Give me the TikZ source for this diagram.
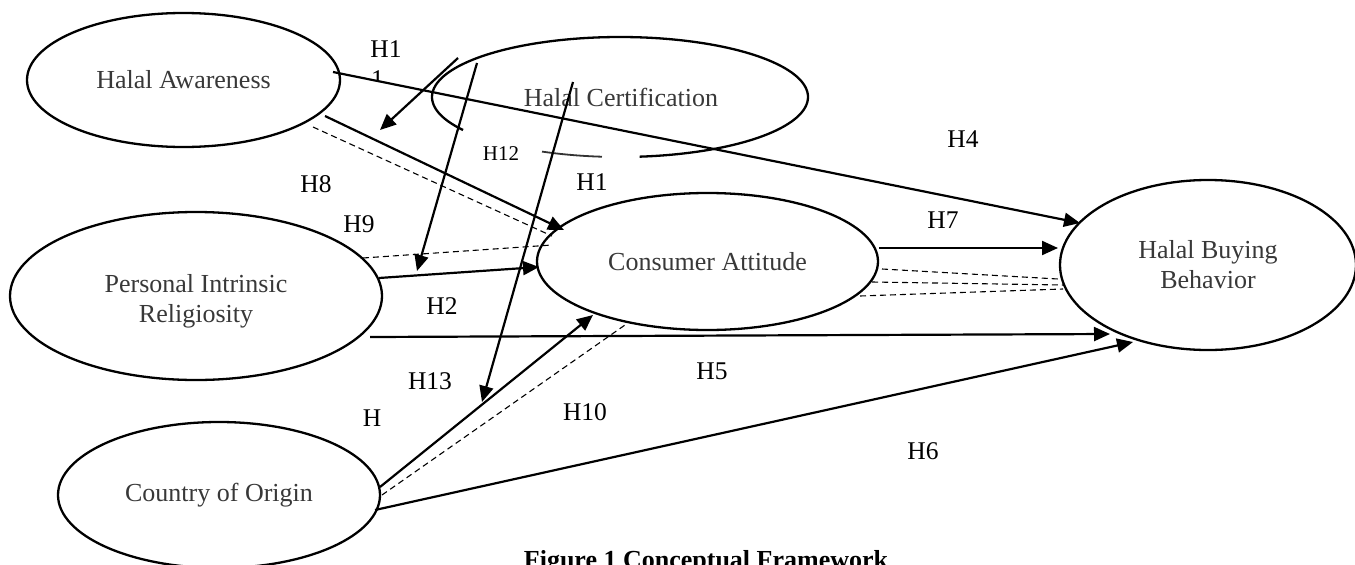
\documentclass[tikz,border=0pt]{standalone}
\usepackage{fontspec}
\setmainfont{Liberation Serif}
\usetikzlibrary{arrows.meta,shapes.geometric}
\begin{document}
\begin{tikzpicture}[x=1pt,y=-1pt,
  oval/.style={ellipse,draw,line width=2.3pt,inner sep=0pt,outer sep=0pt,text=black!78,font=\fontsize{26}{30}\selectfont,align=center},
  ovaltext/.style={text=black!78,font=\fontsize{26}{30}\selectfont,align=center,inner sep=0pt},
  lab/.style={font=\fontsize{25.5}{30}\selectfont,inner sep=0pt},
  smalllab/.style={font=\fontsize{21}{24}\selectfont,inner sep=0pt},
  arr/.style={line width=2.2pt,-{Triangle[length=16pt,width=14pt]}},
  dsh/.style={line width=1.1pt,dash pattern=on 6pt off 4pt}]
\useasboundingbox (0,0) rectangle (1355,565);
\clip (0,0) rectangle (1355,565);
% ellipses
\node[oval,minimum width=313pt,minimum height=134pt] (HA) at (183.5,80) {Halal Awareness};
\node[ovaltext] (HC) at (621,97) {Halal Certification};
\draw[line width=2.3pt] plot[domain=146.6:444,samples=150,smooth] ({620+188*cos(\x)},{97+60*sin(\x)});
\draw[line width=1.8pt,black!80] plot[domain=95.5:114.5,samples=20,smooth] ({620+188*cos(\x)},{97+60*sin(\x)});
\node[oval,minimum width=372pt,minimum height=168pt] (PIR) at (196,296) {};
\node[ovaltext] (PIRt) at (196,301) {Personal Intrinsic\\Religiosity};
\node[oval,minimum width=322pt,minimum height=146pt] (COO) at (219,495) {Country of Origin};
\node[oval,minimum width=341pt,minimum height=137pt] (CA) at (707.5,261.5) {Consumer Attitude};
\node[oval,minimum width=296pt,minimum height=170pt] (HBB) at (1208,265) {Halal Buying\\Behavior};
% connector end points
\coordinate (h4s) at (333,72);   \coordinate (h4e) at (1080,223);
\coordinate (h8s) at (325,116);  \coordinate (h8e) at (564,230);
\coordinate (d8s) at (313,127);  \coordinate (d8e) at (552,236);
\coordinate (h11s) at (458,58);  \coordinate (h11e) at (380,130);
\coordinate (h12s) at (477,63);  \coordinate (h12e) at (417,271);
\coordinate (h13s) at (573,82);  \coordinate (h13e) at (482,402);
\coordinate (d9s) at (363,258);  \coordinate (d9e) at (552,245);
\coordinate (h2s) at (379,278);  \coordinate (h2e) at (539,267);
\coordinate (h5s) at (370,337);  \coordinate (h5e) at (1110,334);
\coordinate (h7s) at (879,248);  \coordinate (h7e) at (1058,248);
\coordinate (da1) at (882,269);  \coordinate (db1) at (1058,279);
\coordinate (da2) at (872,282);  \coordinate (db2) at (1063,285);
\coordinate (da3) at (860,296);  \coordinate (db3) at (1063,289);
\coordinate (h3s) at (380,487);  \coordinate (h3e) at (593,315);
\coordinate (d10s) at (382,495); \coordinate (d10e) at (625,325);
\coordinate (h6s) at (375,510);  \coordinate (h6e) at (1133,342);
% labels
\node[lab] (lH1) at (386,49) {H1};
\begin{scope}
\clip (360,60) rectangle (400,79);
\node[lab,anchor=north west] (lH1b) at (371,70) {1};
\end{scope}
\node[smalllab,fill=white,inner sep=1pt] (lH12) at (501,154) {H12};
\node[lab] (lH1c) at (592,182) {H1};
\node[lab] (lH8) at (316,184) {H8};
\node[lab] (lH9) at (359,224) {H9};
\node[lab] (lH2) at (442,306) {H2};
\node[lab] (lH13) at (430,381) {H13};
\node[lab] (lH) at (372,418) {H};
\node[lab] (lH10) at (585,412) {H10};
\node[lab] (lH7) at (943,220) {H7};
\node[lab] (lH4) at (963,139) {H4};
\node[lab] (lH5) at (712,371) {H5};
\node[lab] (lH6) at (923,451) {H6};
\node[font=\bfseries\fontsize{26}{30}\selectfont,anchor=north,inner sep=0pt] (cap) at (706,550) {Figure 1 Conceptual Framework};
% connectors
\draw[arr] (h4s) -- (h4e);
\draw[arr] (h8s) -- (h8e);
\draw[dsh] (d8s) -- (d8e);
\draw[arr] (h11s) -- (h11e);
\draw[arr] (h12s) -- (h12e);
\draw[arr] (h13s) -- (h13e);
\draw[dsh] (d9s) -- (d9e);
\draw[arr] (h2s) -- (h2e);
\draw[arr] (h5s) -- (h5e);
\draw[arr] (h7s) -- (h7e);
\draw[dsh] (da1) -- (db1);
\draw[dsh] (da2) -- (db2);
\draw[dsh] (da3) -- (db3);
\draw[arr] (h3s) -- (h3e);
\draw[dsh] (d10s) -- (d10e);
\draw[arr] (h6s) -- (h6e);
\end{tikzpicture}
\end{document}
